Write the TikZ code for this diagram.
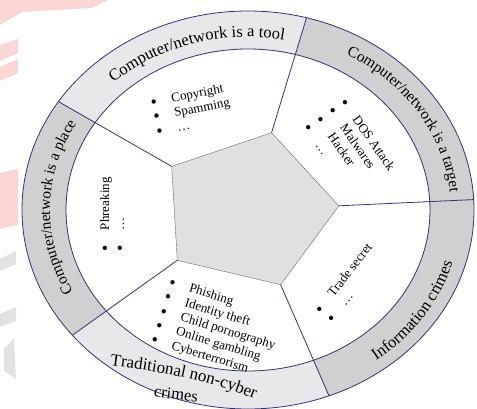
\documentclass[tikz,border=0pt]{standalone}
\usepackage{fontspec}
\setmainfont{Liberation Serif}
\usetikzlibrary{calc,decorations.text}
\definecolor{ringblue}{RGB}{50, 50, 120}
\definecolor{ringlight}{RGB}{232, 232, 234}
\definecolor{ringdark}{RGB}{208, 208, 208}
\definecolor{pentafill}{RGB}{224, 224, 224}
\definecolor{pentaline}{RGB}{105, 105, 105}
\definecolor{markred}{RGB}{251, 214, 214}
\definecolor{markgray}{RGB}{226, 226, 226}
\newcommand{\lbul}{\makebox[5pt]{\raisebox{-1.8pt}{\fontsize{18}{18}\selectfont\textbullet}}\hspace{15.5pt}}

\begin{document}
\begin{tikzpicture}[x=1pt, y=1pt,
    listtext/.style={align=left, inner sep=0pt, font=\fontsize{13}{15}\selectfont},
    ringtext/.style 2 args={decorate, decoration={text along path, text align=center, text={|\fontsize{#1}{#1}\selectfont|#2}}}]
    \useasboundingbox (0,0) rectangle (477,409);

    % faint marks in the background
    \fill[markred] (0,409) -- (108,409) -- (92,401) -- (22,397) -- (0,384) -- cycle;
    \fill[markred] (0,364) -- (18,370) -- (18,356) -- (0,348) -- cycle;
    \fill[markred] (0,342) -- (18,350) -- (18,336) -- (0,328) -- cycle;
    \fill[markred] (0,236) -- (18,240) -- (18,184) -- (0,180) -- cycle;
    \fill[markgray] (0,150) -- (16,158) -- (16,145) -- (0,138) -- cycle;
    \fill[markgray] (0,95) -- (16,102) -- (16,88) -- (0,82) -- cycle;
    \fill[markgray] (4,60) -- (14,70) -- (16,30) -- (4,38) -- cycle;

    \coordinate (C) at (248,199);

    % Outer ring, five parts
    \fill[ringdark]  ($(C)+(3:226pt and 199pt)$) arc[start angle=3, end angle=75, x radius=226pt, y radius=199pt]
        -- ($(C)+(75:182pt and 161pt)$) arc[start angle=75, end angle=3, x radius=182pt, y radius=161pt] -- cycle;
    \fill[ringlight] ($(C)+(75:226pt and 199pt)$) arc[start angle=75, end angle=147, x radius=226pt, y radius=199pt]
        -- ($(C)+(147:182pt and 161pt)$) arc[start angle=147, end angle=75, x radius=182pt, y radius=161pt] -- cycle;
    \fill[ringdark]  ($(C)+(147:226pt and 199pt)$) arc[start angle=147, end angle=219, x radius=226pt, y radius=199pt]
        -- ($(C)+(219:182pt and 161pt)$) arc[start angle=219, end angle=147, x radius=182pt, y radius=161pt] -- cycle;
    \fill[ringlight] ($(C)+(219:226pt and 199pt)$) arc[start angle=219, end angle=291, x radius=226pt, y radius=199pt]
        -- ($(C)+(291:182pt and 161pt)$) arc[start angle=291, end angle=219, x radius=182pt, y radius=161pt] -- cycle;
    \fill[ringdark]  ($(C)+(291:226pt and 199pt)$) arc[start angle=291, end angle=363, x radius=226pt, y radius=199pt]
        -- ($(C)+(363:182pt and 161pt)$) arc[start angle=363, end angle=291, x radius=182pt, y radius=161pt] -- cycle;
    \draw[ringblue, thick] (C) ellipse[x radius=226pt, y radius=199pt];
    \draw[ringblue, thick] (C) ellipse[x radius=182pt, y radius=161pt];

    % Pentagon in the middle
    \coordinate (p1) at ($(C)+(3:91pt and 80pt)$);
    \coordinate (p2) at ($(C)+(75:91pt and 80pt)$);
    \coordinate (p3) at ($(C)+(147:91pt and 80pt)$);
    \coordinate (p4) at ($(C)+(219:91pt and 80pt)$);
    \coordinate (p5) at ($(C)+(291:91pt and 80pt)$);
    \filldraw[fill=pentafill, draw=pentaline] (p1) -- (p2) -- (p3) -- (p4) -- (p5) -- cycle;

    % Spokes out to the rim
    \coordinate (o1) at ($(C)+(3:226pt and 199pt)$);
    \coordinate (o2) at ($(C)+(75:226pt and 199pt)$);
    \coordinate (o3) at ($(C)+(147:226pt and 199pt)$);
    \coordinate (o4) at ($(C)+(219:226pt and 199pt)$);
    \coordinate (o5) at ($(C)+(291:226pt and 199pt)$);
    \draw[ringblue, thick] (p1) -- (o1);
    \draw[ringblue, thick] (p2) -- (o2);
    \draw[ringblue, thick] (p3) -- (o3);
    \draw[ringblue, thick] (p4) -- (o4);
    \draw[ringblue, thick] (p5) -- (o5);

    % Ring labels
    \path[ringtext={16.5}{Computer/network is a tool}] ($(C)+(159:198pt and 173pt)$)
        arc[start angle=159, end angle=55, x radius=198pt, y radius=173pt];
    \path[ringtext={15.4}{Computer/network is a target}] ($(C)+(83:203pt and 178pt)$)
        arc[start angle=83, end angle=-19, x radius=203pt, y radius=178pt];
    \path[ringtext={15.4}{Computer/network is a place}] ($(C)+(229:198pt and 173pt)$)
        arc[start angle=229, end angle=129, x radius=198pt, y radius=173pt];
    \path[ringtext={16.5}{Information crimes}] ($(C)+(-83:213pt and 189pt)$)
        arc[start angle=-83, end angle=17, x radius=213pt, y radius=189pt];
    \path[ringtext={17}{Traditional non-cyber}] (97,45) .. controls (167,37) and (217,27) .. (267,5);
    \node[rotate=-7, inner sep=0pt, font=\fontsize{16.5}{16.5}\selectfont] (tradcrimes) at (176,15) {crimes};

    % Lists inside the sectors
    \node[listtext, rotate=11] (toollist) at (192,299)
        {\lbul Copyright\\ \lbul Spamming\\ \lbul\ldots};
    \node[listtext, rotate=-55] (targetlist) at (349,261)
        {\lbul DOS Attack\\ \lbul Malwares\\ \lbul Hacker\\ \lbul\ldots};
    \node[listtext, rotate=90] (placelist) at (113,195)
        {\lbul Phreaking\\ \lbul\ldots};
    \node[listtext, rotate=52] (infolist) at (350,126)
        {\lbul Trade secret\\ \lbul\ldots};
    \node[listtext, rotate=-17] (tradlist) at (218,80)
        {\lbul Phishing\\ \lbul Identity theft\\ \lbul Child pornography\\
         \lbul Online gambling\\ \lbul Cyberterrorism};
\end{tikzpicture}
\end{document}
